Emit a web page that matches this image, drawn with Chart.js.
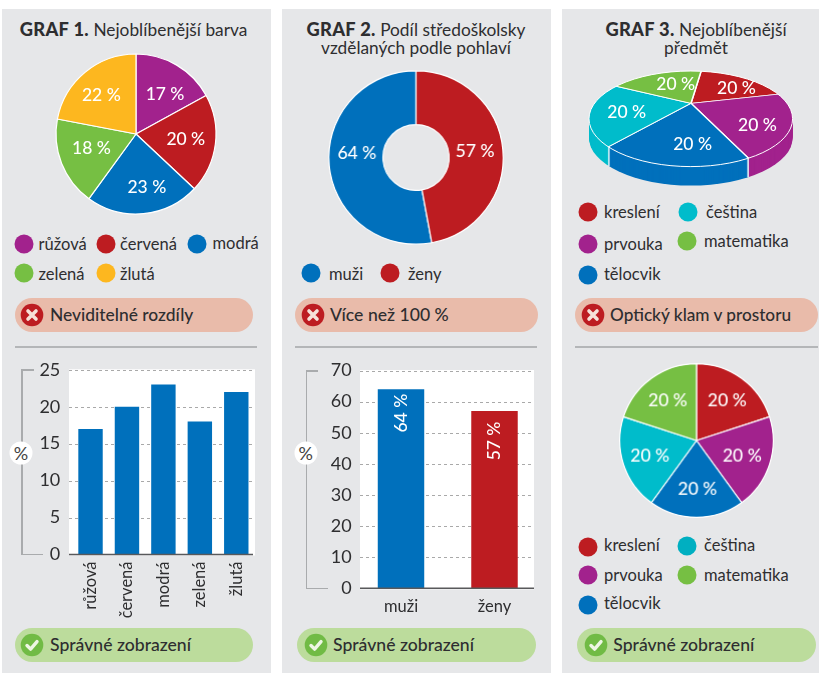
<!DOCTYPE html>
<html lang="cs"><head><meta charset="utf-8">
<script src="https://cdn.jsdelivr.net/npm/chart.js@4"></script>
<style>
html,body{margin:0;padding:0;background:#fff}
#stage{position:relative;width:819px;height:673px;overflow:hidden;font-family:Lato,sans-serif;color:#2e2e30}
.panel{position:absolute;top:9px;height:664px;background:#e6e7e9}
.t{position:absolute;white-space:nowrap;transform:translateY(-50%);line-height:1}
.c{transform:translate(-50%,-50%)}
.dot{position:absolute;border-radius:50%;width:19px;height:19px;transform:translate(-50%,-50%)}
.pill{position:absolute;height:33.5px;border-radius:17px}
.rule{position:absolute;height:1.5px;background:#b4b6b8}
.br{position:absolute;background:#a9abad}
.badge{position:absolute;width:23px;height:23px;border-radius:50%;background:#fff;transform:translate(-50%,-50%);text-align:center;line-height:23px;font-size:18px;color:#444}
canvas{position:absolute}
svg{position:absolute}
b{font-weight:900;font-size:18.3px;letter-spacing:.3px}
</style></head><body><div id="stage"></div>
<script>
const barvaLabels=['růžová','červená','modrá','zelená','žlutá'];
const barvaValues=[17,20,23,18,22];
const pohlaviLabels=['muži','ženy'];
const pohlaviValues=[64,57];
const predmetLabels=['kreslení','prvouka','tělocvik','čeština','matematika'];
const predmetValues=[20,20,20,20,20];
const barvaTicks=[0,5,10,15,20,25];
const pohlaviTicks=[0,10,20,30,40,50,60,70];
const PURPLE='#a2228d',RED='#bd1c21',BLUE='#0070bc',GREEN='#76bf43',YELLOW='#fdb71f',TEAL='#00bccb';
const barvaColors=[PURPLE,RED,BLUE,GREEN,YELLOW];
const pohlaviColors=[BLUE,RED];
const predmetColors=[RED,PURPLE,BLUE,TEAL,GREEN];
const FONT='Lato, sans-serif',INK='#2e2e30';

const stage=document.getElementById('stage');
function el(cls,css,html){const d=document.createElement('div');d.className=cls;Object.assign(d.style,css);if(html!==undefined)d.innerHTML=html;stage.appendChild(d);return d;}
function text(x,y,s,size,extra){return el('t',Object.assign({left:x+'px',top:y+'px',fontSize:size+'px'},extra||{}),s);}
function ctext(x,y,s,size,extra){return el('t c',Object.assign({left:x+'px',top:y+'px',fontSize:size+'px'},extra||{}),s);}
[[2,269],[282,269],[562,257]].forEach(p=>el('panel',{left:p[0]+'px',width:p[1]+'px'}));

ctext(133.5,29,'<b>GRAF 1.</b> Nejoblíbenější barva',17.3);
ctext(416,29,'<b>GRAF 2.</b> Podíl středoškolsky',17.3);
ctext(416,47.5,'vzdělaných podle pohlaví',17.3);
ctext(696,29,'<b>GRAF 3.</b> Nejoblíbenější',17.3);
ctext(696,48,'předmět',17.3);

function legend(items){items.forEach(i=>{
  el('dot',{left:i.cx+'px',top:i.cy+'px',background:i.color});
  text(i.tx,i.ty,i.label,16.5);
});}
legend([
 {label:barvaLabels[0],color:barvaColors[0],cx:24,cy:244.3,tx:38.5,ty:244},
 {label:barvaLabels[1],color:barvaColors[1],cx:105.7,cy:244.3,tx:120,ty:244},
 {label:barvaLabels[2],color:barvaColors[2],cx:197.3,cy:244.3,tx:212.5,ty:243},
 {label:barvaLabels[3],color:barvaColors[3],cx:24,cy:273,tx:38.5,ty:273.5},
 {label:barvaLabels[4],color:barvaColors[4],cx:105.7,cy:273,tx:120,ty:273.5},
 {label:pohlaviLabels[0],color:pohlaviColors[0],cx:311,cy:273,tx:329,ty:273.5},
 {label:pohlaviLabels[1],color:pohlaviColors[1],cx:390,cy:273,tx:408,ty:273.5},
 {label:predmetLabels[0],color:predmetColors[0],cx:588.3,cy:212.3,tx:604,ty:212},
 {label:predmetLabels[3],color:predmetColors[3],cx:688,cy:212.3,tx:706,ty:212},
 {label:predmetLabels[1],color:predmetColors[1],cx:588.3,cy:243.7,tx:604,ty:244},
 {label:predmetLabels[4],color:predmetColors[4],cx:686.7,cy:241,tx:704,ty:241},
 {label:predmetLabels[2],color:predmetColors[2],cx:588.3,cy:274.7,tx:604,ty:273.5},
 {label:predmetLabels[0],color:predmetColors[0],cx:588.3,cy:546.7,tx:604,ty:545},
 {label:predmetLabels[3],color:'#00afc1',cx:686.7,cy:545.7,tx:704,ty:545},
 {label:predmetLabels[1],color:predmetColors[1],cx:588.3,cy:575,tx:604,ty:575},
 {label:predmetLabels[4],color:predmetColors[4],cx:686.7,cy:575,tx:704,ty:575},
 {label:predmetLabels[2],color:predmetColors[2],cx:588.3,cy:604.7,tx:604,ty:603},
]);

function pill(x,w,y,icx,tx,label,ok,size){
  el('pill',{left:x+'px',width:w+'px',top:y+'px',background:ok?'#bcdc9c':'#e9bbaa'});
  const cy=y+17;
  const mark=ok?'<path d="M7 12.5l3.6 3.6L17 8.6" fill="none" stroke="#eef6e4" stroke-width="3.4" stroke-linecap="round" stroke-linejoin="round"/>'
    :'<path d="M8 8l8 8M16 8l-8 8" fill="none" stroke="#f6e0d8" stroke-width="3.6" stroke-linecap="round"/>';
  const s=document.createElementNS('http://www.w3.org/2000/svg','svg');
  s.setAttribute('width','24');s.setAttribute('height','24');s.setAttribute('viewBox','0 0 24 24');
  s.style.left=(icx-12)+'px';s.style.top=(cy-12)+'px';
  s.innerHTML='<circle cx="12" cy="12" r="11.3" fill="'+(ok?'#71bb45':'#bd1c21')+'"/>'+mark;
  stage.appendChild(s);
  text(tx,cy,label,size,{fontWeight:500});
}
pill(14.7,238.5,298,32.3,50,'Neviditelné rozdíly',false,17.4);
pill(295,243,298,313,330,'Více než 100 %',false,17.6);
pill(575,242.5,298,592.7,610,'Optický klam v prostoru',false,17.2);
pill(14.7,238.5,628.2,32.3,50,'Správné zobrazení',true,17.6);
pill(297,238.7,628.2,316,333,'Správné zobrazení',true,17.6);
pill(577,238.5,628.2,596,613.3,'Správné zobrazení',true,17.6);
[[15,242],[295,242],[575,243]].forEach(r=>el('rule',{left:r[0]+'px',width:r[1]+'px',top:'346px'}));

function bracket(x,top,bottom,topEnd,botEnd,badgeY,badgeX){
  el('br',{left:x+'px',top:top+'px',width:'1.5px',height:(bottom-top)+'px'});
  el('br',{left:x+'px',top:top+'px',width:(topEnd-x)+'px',height:'1.5px'});
  el('br',{left:x+'px',top:(bottom-1.5)+'px',width:(botEnd-x)+'px',height:'1.5px'});
  el('badge',{left:badgeX+'px',top:badgeY+'px'},'%');
}
bracket(21,369.2,555.3,34,43,452.7,21);
bracket(305.5,370,589.2,318,327.7,452.7,305.7);

function addCanvas(l,t,w,h){const c=document.createElement('canvas');c.width=w;c.height=h;c.style.left=l+'px';c.style.top=t+'px';c.style.width=w+'px';c.style.height=h+'px';stage.appendChild(c);return c;}

/* percent labels on pie slices */
const pieLabels={id:'pieLabels',afterDatasetsDraw(chart,_a,o){
  if(!o.frac)return;
  const ctx=chart.ctx,meta=chart.getDatasetMeta(0),vals=chart.data.datasets[0].data;
  ctx.save();ctx.fillStyle='#fff';ctx.font='500 17.5px '+FONT;ctx.textAlign='center';ctx.textBaseline='middle';
  meta.data.forEach((a,i)=>{const m=(a.startAngle+a.endAngle)/2,n=(o.nudge&&o.nudge[i])||[0,0];
    ctx.fillText(vals[i]+' %',a.x+Math.cos(m)*o.frac*a.outerRadius+n[0],a.y+Math.sin(m)*o.frac*a.outerRadius+n[1]);});
  ctx.restore();}};

function pie(cx,cy,R,labels,values,colors,opt){
  opt=opt||{};const pad=4,w=2*R+2*pad;
  const c=addCanvas(cx-R-pad,cy-R-pad,w,w);
  return new Chart(c,{type:opt.cutout?'doughnut':'pie',plugins:[pieLabels],
    data:{labels,datasets:[{data:values,backgroundColor:colors,borderColor:'#fff',borderWidth:1.2}]},
    options:{responsive:false,animation:false,cutout:opt.cutout||0,radius:R,rotation:opt.rotation||0,
      layout:{padding:0},
      plugins:{legend:{display:false},tooltip:{enabled:false},pieLabels:{frac:opt.frac,nudge:opt.nudge}}}});
}
pie(136.3,134,80,barvaLabels,barvaValues,barvaColors,{frac:.64,nudge:[[3,4],[-1,-1],[6,2],[3,-4],[-2,1]]});
pie(416,157.3,86.7,pohlaviLabels,pohlaviValues,pohlaviColors,{cutout:'38%',frac:.68,nudge:[[0,-9],[0,-1]],
  rotation:pohlaviValues[1]/(pohlaviValues[0]+pohlaviValues[1])*360});
pie(696.3,440.7,76.3,predmetLabels,predmetValues,predmetColors,{frac:.68,nudge:[[0,2],[-4,-1],[1,-4],[3,-1],[2,2]]});

/* plot backdrop: white field, dashed value rules, dark base line */
const plotFrame={id:'plotFrame',
  beforeDatasetsDraw(chart,_a,o){
    const ctx=chart.ctx,y=chart.scales.y;
    ctx.save();ctx.fillStyle='#fff';
    ctx.fillRect(o.left,y.top-.5,o.right-o.left,y.bottom-y.top+1.5);
    ctx.strokeStyle='#a9a9a9';ctx.lineWidth=1;ctx.setLineDash([3,3]);
    y.ticks.forEach(t=>{if(t.value===0)return;const p=Math.round(y.getPixelForValue(t.value))+.5;
      ctx.beginPath();ctx.moveTo(o.left,p);ctx.lineTo(o.gridRight,p);ctx.stroke();});
    ctx.restore();},
  afterDatasetsDraw(chart,_a,o){
    const ctx=chart.ctx,y=chart.scales.y.getPixelForValue(0);
    ctx.save();ctx.strokeStyle='#58595b';ctx.lineWidth=1.5;ctx.beginPath();ctx.moveTo(o.left,y);ctx.lineTo(o.gridRight,y);ctx.stroke();
    if(o.barNudge){ctx.fillStyle='#fff';ctx.font='500 17.5px '+FONT;ctx.textAlign='center';ctx.textBaseline='middle';
      chart.getDatasetMeta(0).data.forEach((b,i)=>{ctx.save();ctx.translate(b.x,b.y+o.barNudge[i]);ctx.rotate(-Math.PI/2);
        ctx.fillText(chart.data.datasets[0].data[i]+' %',0,0);ctx.restore();});}
    ctx.restore();}};

function bars(b){
  const c=addCanvas(b.cl,b.ct,b.cw,b.ch);
  new Chart(c,{type:'bar',plugins:[plotFrame],
    data:{labels:b.labels,datasets:[{data:b.values,backgroundColor:b.colors,borderWidth:0,barPercentage:b.pct,categoryPercentage:1}]},
    options:{responsive:false,animation:false,
      layout:{padding:{left:0,top:b.top-b.ct,right:b.cl+b.cw-b.right,bottom:0}},
      plugins:{legend:{display:false},tooltip:{enabled:false},
        plotFrame:{left:b.plotL-b.cl,right:b.plotR-b.cl,gridRight:b.gridR-b.cl,barNudge:b.barNudge}},
      scales:{
        x:{type:'category',offset:true,grid:{display:false,drawTicks:false},border:{display:false},
          ticks:{color:INK,font:{family:FONT,size:16.5},padding:b.xPad,autoSkip:false,
            minRotation:b.rot,maxRotation:b.rot},
          afterFit:s=>{s.height=b.ct+b.ch-b.base;}},
        y:{min:0,max:b.ticks[b.ticks.length-1],afterBuildTicks:s=>{s.ticks=b.ticks.map(v=>({value:v}));},
          grid:{display:false,drawTicks:false},border:{display:false},
          ticks:{color:INK,font:{family:FONT,size:18},padding:b.yPad},
          afterFit:s=>{s.width=b.left-b.cl;}}
      }}});
}
bars({labels:barvaLabels,values:barvaValues,colors:BLUE,ticks:barvaTicks,pct:.67,rot:90,
  cl:2,ct:340,cw:269,ch:285,left:72.3,right:254.5,top:369.8,base:554.5,plotL:69,plotR:255,gridR:253,xPad:7,yPad:12});
bars({labels:pohlaviLabels,values:pohlaviValues,colors:pohlaviColors,ticks:pohlaviTicks,pct:.497,rot:0,
  cl:282,ct:350,cw:269,ch:275,left:354.25,right:541.25,top:370.5,base:588.3,plotL:360,plotR:534,gridR:534,xPad:8,yPad:2.5,barNudge:[24,30]});

/* tilted, thick pie: the library's own arcs, seen through a flat projection */
const tilt={a:.9872,b:-.1564,c:.0524,d:.4982};
const rim={x:110.8,y:58.8,rx:101.8,ry:47.8,depth:19,apexX:111,apexY:43.3};
const labelNudge3d=[[3,7],[13,9.5],[11,11],[-5,3],[12,7]];
const tiltedPie={id:'tiltedPie',beforeDatasetDraw(chart,args){
  const ctx=chart.ctx,arcs=args.meta.data;
  for(let dy=rim.depth;dy>=0;dy--){
    ctx.save();
    ctx.beginPath();ctx.ellipse(rim.x,rim.y+dy,rim.rx,rim.ry,0,0,Math.PI*2);ctx.clip();
    ctx.translate(rim.apexX,rim.apexY+dy);
    ctx.transform(tilt.a,tilt.c,tilt.b,tilt.d,0,0);
    ctx.translate(-arcs[0].x,-arcs[0].y);
    arcs.forEach(a=>{ctx.save();a.draw(ctx);ctx.restore();});
    ctx.restore();
  }
  ctx.save();ctx.strokeStyle='#fff';ctx.lineWidth=1;
  ctx.beginPath();ctx.ellipse(rim.x,rim.y,rim.rx,rim.ry,0,0,Math.PI*2);ctx.stroke();
  ctx.fillStyle='#fff';ctx.font='500 17.5px '+FONT;ctx.textAlign='center';ctx.textBaseline='middle';
  arcs.forEach((a,i)=>{const m=(a.startAngle+a.endAngle)/2,ux=Math.cos(m)*60,uy=Math.sin(m)*60;
    ctx.fillText(chart.data.datasets[0].data[i]+' %',
      rim.apexX+tilt.a*ux+tilt.b*uy+labelNudge3d[i][0],rim.apexY+tilt.c*ux+tilt.d*uy+labelNudge3d[i][1]);});
  ctx.restore();
  return false;
}};
new Chart(addCanvas(580,60,220,135),{type:'pie',plugins:[tiltedPie],
  data:{labels:predmetLabels,datasets:[{data:predmetValues,backgroundColor:predmetColors,borderColor:'#fff',borderWidth:1.6}]},
  options:{responsive:false,animation:false,radius:320,layout:{padding:0},
    plugins:{legend:{display:false},tooltip:{enabled:false}}}});
</script></body></html>
